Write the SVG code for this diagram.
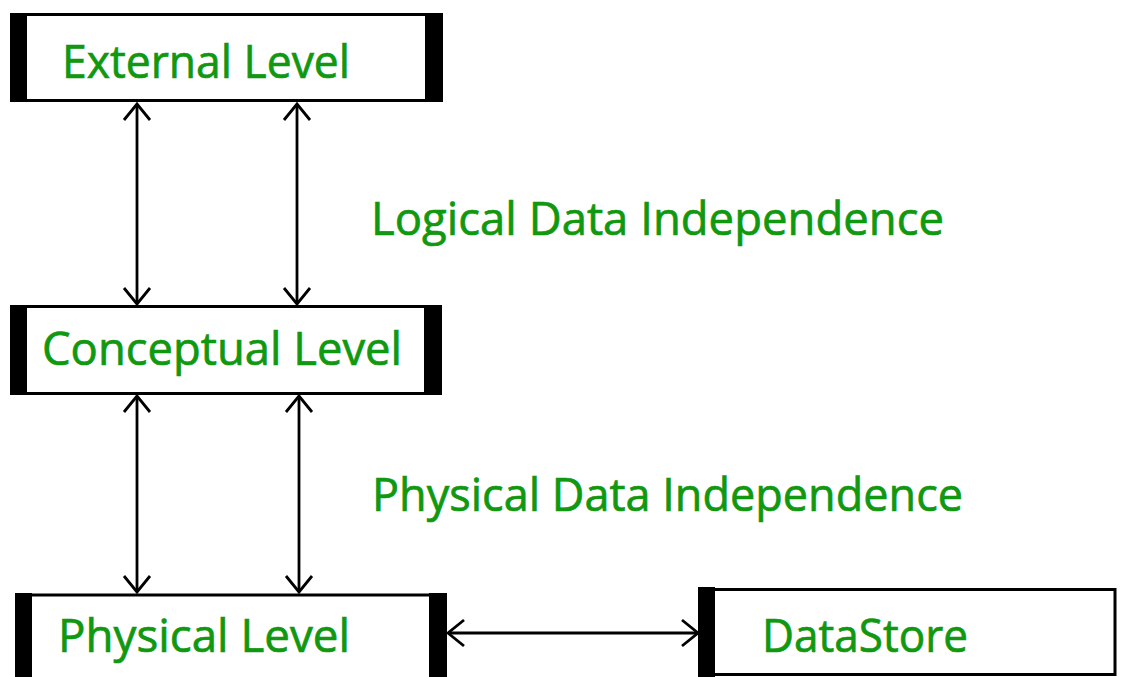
<svg xmlns="http://www.w3.org/2000/svg" width="1121" height="677" viewBox="0 0 1121 677">
  <style>
    .frame { fill: #ffffff; stroke: #000000; stroke-width: 3; }
    .bar { fill: #000000; }
    .label { font-family: "Open Sans", "Noto Sans", sans-serif; font-size: 46px; fill: #109810; stroke: #109810; stroke-width: 0.7; }
    .conn { stroke: #000000; stroke-width: 2.8; fill: none; }
  </style>
  <defs>
    <marker id="head" markerUnits="userSpaceOnUse" markerWidth="40" markerHeight="40" viewBox="-20 -20 40 40" refX="0" refY="0" orient="auto-start-reverse">
      <path d="M -16,-13 L 0,0 L -16,13" fill="none" stroke="#000000" stroke-width="2.8"/>
    </marker>
  </defs>
  <rect width="1121" height="677" fill="#ffffff"/>

  <g id="connectors">
    <line class="conn" x1="137" y1="104" x2="137" y2="304" marker-start="url(#head)" marker-end="url(#head)"/>
    <line class="conn" x1="297" y1="104" x2="297" y2="304" marker-start="url(#head)" marker-end="url(#head)"/>
    <line class="conn" x1="137" y1="396" x2="137" y2="592" marker-start="url(#head)" marker-end="url(#head)"/>
    <line class="conn" x1="299" y1="396" x2="299" y2="592" marker-start="url(#head)" marker-end="url(#head)"/>
    <line class="conn" x1="448" y1="633" x2="698" y2="633" marker-start="url(#head)" marker-end="url(#head)"/>
  </g>

  <g id="external-level">
    <rect class="frame" x="11.5" y="14.5" width="430" height="86"/>
    <rect class="bar" x="10" y="13" width="17" height="89"/>
    <rect class="bar" x="425" y="13" width="18" height="89"/>
    <text class="label" x="62" y="78" textLength="288" lengthAdjust="spacingAndGlyphs">External Level</text>
  </g>

  <g id="conceptual-level">
    <rect class="frame" x="11.5" y="306.5" width="429" height="87"/>
    <rect class="bar" x="10" y="305" width="17" height="90"/>
    <rect class="bar" x="424" y="305" width="18" height="90"/>
    <text class="label" x="42" y="365" textLength="360" lengthAdjust="spacingAndGlyphs">Conceptual Level</text>
  </g>

  <g id="physical-level">
    <rect class="frame" x="16.5" y="595" width="429" height="100" stroke-width="4"/>
    <rect class="bar" x="15" y="593" width="17" height="90"/>
    <rect class="bar" x="429" y="593" width="18" height="90"/>
    <text class="label" x="58" y="652" textLength="292" lengthAdjust="spacingAndGlyphs">Physical Level</text>
  </g>

  <g id="datastore">
    <rect class="frame" x="700" y="589.5" width="415" height="85"/>
    <rect class="bar" x="698" y="587" width="17" height="90"/>
    <text class="label" x="762" y="652" textLength="206" lengthAdjust="spacingAndGlyphs">DataStore</text>
  </g>

  <g id="logical-label">
    <text class="label" x="371" y="235" textLength="573" lengthAdjust="spacingAndGlyphs">Logical Data Independence</text>
  </g>
  <g id="physical-label">
    <text class="label" x="372" y="511" textLength="591" lengthAdjust="spacingAndGlyphs">Physical Data Independence</text>
  </g>
</svg>
